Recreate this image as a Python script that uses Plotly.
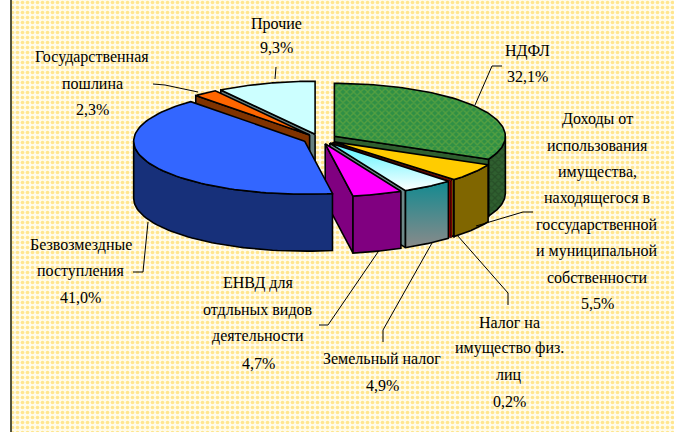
import numpy as np
import plotly.graph_objects as go

# --- data -------------------------------------------------------------
names = ["НДФЛ", "Доходы от использования имущества", "Налог на имущество физ. лиц",
         "Земельный налог", "ЕНВД для отдльных видов деятельности",
         "Безвозмездные поступления", "Государственная пошлина", "Прочие"]
values = [32.1, 5.5, 0.2, 4.9, 4.7, 41.0, 2.3, 9.3]

top_colors = ["#2F8F45", "#FFCC00", "#FF0000", None, "#FF00FF", "#3366FF", "#FF6600", "#CCFFFF"]
side_colors = ["#2F5F2F", "#806600", "#A00000", None, "#800080", "#17307A", "#803300", "#668080"]

label_lines = [
    ["НДФЛ", "32,1%"],
    ["Доходы от", "использования", "имущества,", "находящегося в", "госсударственной",
     "и муниципальной", "собственности", "5,5%"],
    ["Налог на", "имущество физ.", "лиц", "0,2%"],
    ["Земельный налог", "4,9%"],
    ["ЕНВД для", "отдльных видов", "деятельности", "4,7%"],
    ["Безвозмездные", "поступления", "41,0%"],
    ["Государственная", "пошлина", "2,3%"],
    ["Прочие", "9,3%"],
]
label_x = [527, 597, 509, 382, 258, 80.5, 92, 276]
label_y0 = [51, 119, 322, 358, 283, 245, 57, 24]
label_step = [25, 26.4, 26.4, 27, 26.7, 26, 26, 23]
leaders = [
    [(475, 105), (492, 66), (502, 66)],
    [(476, 226), (523, 212), (533, 212)],
    [(457, 235), (508, 293), (508, 305)],
    [(432, 243), (383, 330), (383, 342)],
    [(378, 252), (328, 325), (319, 325)],
    [(148, 222), (143, 272), (133, 272)],
    [(153, 84), (165, 85), (198, 92)],
    [(275, 79), (276, 67)],
]

# --- geometry ---------------------------------------------------------
CX, CY, RX, RY, DEPTH = 320, 139, 171, 53, 57
EX, EY = 17, 5
W, H = 674, 432

total = sum(values)
edges = np.concatenate([[0], np.cumsum(values)]) / total * 360


def rim(apex, deg):
    t = np.radians(deg)
    return apex[0] + RX * np.sin(t), apex[1] - RY * np.cos(t)


fig = go.Figure()


def poly(xs, ys, color=None, **kw):
    opts = dict(x=list(xs) + [xs[0]], y=list(ys) + [ys[0]], mode="lines", fill="toself",
                line=dict(color="black", width=1.6), hoverinfo="skip", showlegend=False)
    if color:
        opts["fillcolor"] = color
    opts.update(kw)
    fig.add_trace(go.Scatter(**opts))


# background
poly([11, W + 2, W + 2, 11], [-2, -2, H + 2, H + 2],
     line=dict(width=0),
     fillcolor="white",
     fillpattern=dict(shape=".", size=5, solidity=0.42, fgcolor="#FFCF33", bgcolor="#FFFBEA"))
fig.add_shape(type="line", x0=11, x1=11, y0=0, y1=H, line=dict(color="#55553F", width=2))

grad_side = dict(type="vertical", colorscale=[[0, "#8A8A8A"], [1, "#128A90"]])
grad_top = dict(type="vertical", colorscale=[[0, "#FFFFFF"], [1, "#55F5FF"]])

draw_order = [7, 6, 0, 1, 2, 3, 4, 5]
for i in draw_order:
    a0, a1 = edges[i], edges[i + 1]
    mid = np.radians((a0 + a1) / 2)
    apex = (CX + EX * np.sin(mid), CY - EY * np.cos(mid))
    thin = dict(line=dict(color="black", width=0.5)) if i == 2 else {}
    pat = dict(fillpattern=dict(shape="x", size=5, solidity=0.45, fgcolor="#1F3F1F", bgcolor="#2F5F2F")) if i == 0 else {}
    side = dict(fillgradient=grad_side) if side_colors[i] is None else dict(fillcolor=side_colors[i])
    # radial walls
    for a, vis in ((a0, np.sin(np.radians(a0)) < 0), (a1, np.sin(np.radians(a1)) > 0)):
        if vis:
            rx_, ry_ = rim(apex, a)
            wall = dict(fillcolor="#2F5F2F") if i == 0 else dict(fillcolor="#6E8A8A") if i == 3 else dict(fillcolor=side_colors[i])
            poly([apex[0], rx_, rx_, apex[0]], [apex[1], ry_, ry_ + DEPTH, apex[1] + DEPTH], **wall, **thin)
    # outer wall
    lo, hi = max(a0, 90), min(a1, 270)
    if hi > lo:
        arc = np.linspace(lo, hi, 60)
        xs, ys = rim(apex, arc)
        poly(list(xs) + list(xs[::-1]), list(ys) + list(ys[::-1] + DEPTH), **side, **pat, **thin)
    # top
    arc = np.linspace(a0, a1, 80)
    xs, ys = rim(apex, arc)
    tp = dict(fillgradient=grad_top) if top_colors[i] is None else dict(fillcolor=top_colors[i])
    if i == 0:
        tp["fillpattern"] = dict(shape="x", size=5, solidity=0.45, fgcolor="#7DB23C", bgcolor="#2F8F45")
    poly([apex[0]] + list(xs), [apex[1]] + list(ys), **tp, **thin)

# leader lines
for pts in leaders:
    fig.add_trace(go.Scatter(x=[p[0] for p in pts], y=[p[1] for p in pts], mode="lines",
                             line=dict(color="black", width=1), hoverinfo="skip", showlegend=False))

# labels
for lines, lx, y0, step in zip(label_lines, label_x, label_y0, label_step):
    for k, t in enumerate(lines):
        fig.add_annotation(x=lx, y=y0 + k * step, text=t, showarrow=False,
                           xanchor="center", yanchor="middle",
                           font=dict(family="Liberation Serif", size=16, color="black"))

fig.update_layout(width=W, height=H, margin=dict(l=0, r=0, t=0, b=0, pad=0),
                  paper_bgcolor="white", plot_bgcolor="white", showlegend=False,
                  xaxis=dict(range=[0, W], visible=False, fixedrange=True),
                  yaxis=dict(range=[H, 0], visible=False, fixedrange=True))
fig.write_html("out.html", config={"displayModeBar": False},
               post_script="document.body.style.margin='0';document.documentElement.style.overflow='hidden';")
